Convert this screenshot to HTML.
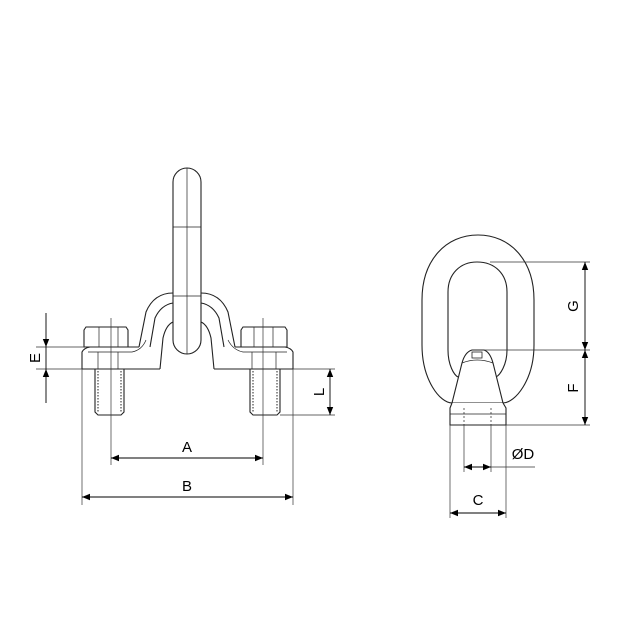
<!DOCTYPE html>
<html><head><style>body{margin:0;background:#fff}svg{display:block}</style></head><body>
<svg width="640" height="640" viewBox="0 0 640 640" xmlns="http://www.w3.org/2000/svg" font-family="Liberation Sans, sans-serif">
<defs>
<marker id="a" viewBox="0 0 10 10" refX="10" refY="5" markerWidth="10" markerHeight="8" orient="auto-start-reverse" markerUnits="userSpaceOnUse"><path d="M0,1 L10,5 L0,9 Z" fill="#000"/></marker>
</defs>
<g fill="none" stroke="#222" stroke-width="1.1">
<!-- eye link left view -->
<path d="M173,182 A14,14 0 0 1 201,182 L201,340 A14,14 0 0 1 173,340 Z" fill="#fff"/>
<line x1="187" y1="168" x2="187" y2="354" stroke-width="0.7"/>
<line x1="173" y1="227" x2="201" y2="227" stroke-width="0.7"/>
<line x1="173" y1="296" x2="201" y2="296" stroke-width="0.7"/>
<!-- saddle -->
<path d="M139,347 L146,312 Q154,293 173,293"/>
<path d="M235,347 L228,312 Q220,293 201,293"/>
<path d="M150,347 L155,318 Q161,305 173,303"/>
<path d="M224,347 L219,318 Q213,305 201,303"/>
<path d="M160,369 L163,338 Q166,325 173,322"/>
<path d="M214,369 L211,338 Q208,325 201,322"/>
<path d="M82,369 L82,352 Q84,348 90,347 L139,347"/>
<path d="M293,369 L293,352 Q291,348 285,347 L235,347"/>
<line x1="82" y1="369" x2="160" y2="369"/>
<line x1="214" y1="369" x2="293" y2="369"/>
<path d="M88,352 L132,352 Q142,350 146,340" stroke-width="0.7"/>
<path d="M287,352 L243,352 Q233,350 228,340" stroke-width="0.7"/>
<!-- bolt heads -->
<path d="M84,330 L86,327 L126,327 L128,330 L128,347 L84,347 Z"/>
<line x1="99" y1="327" x2="99" y2="347" stroke-width="0.7"/>
<line x1="118" y1="327" x2="118" y2="347" stroke-width="0.7"/>
<path d="M241,330 L243,327 L285,327 L287,330 L287,347 L241,347 Z"/>
<line x1="254" y1="327" x2="254" y2="347" stroke-width="0.7"/>
<line x1="273" y1="327" x2="273" y2="347" stroke-width="0.7"/>
<line x1="98" y1="352" x2="98" y2="369" stroke-width="0.7"/>
<line x1="118" y1="352" x2="118" y2="369" stroke-width="0.7"/>
<line x1="252" y1="352" x2="252" y2="369" stroke-width="0.7"/>
<line x1="276" y1="352" x2="276" y2="369" stroke-width="0.7"/>
<!-- threads -->
<path d="M95,369 L95,412 L98,415 L121,415 L124,412 L124,369"/>
<path d="M98,371 L98,412 M121,371 L121,412" stroke-dasharray="1.5,1.5" stroke-width="1"/>
<path d="M250,369 L250,412 L253,415 L277,415 L280,412 L280,369"/>
<path d="M253,371 L253,412 M277,371 L277,412" stroke-dasharray="1.5,1.5" stroke-width="1"/>
<!-- right view -->
<path d="M478,235 C510,235 534,260 534,300 L534,345 C534,380 515,403 503,403 L452,403 C440,403 422,380 422,345 L422,300 C422,260 446,235 478,235 Z" fill="#fff"/>
<path d="M477,262 C495,262 507,274 507,292 L507,350 C507,365 500,375 496,377 M458,377 C454,375 448,365 448,350 L448,292 C448,274 460,262 477,262"/>
<path d="M462,363 Q465,352 472,350 L484,350 Q490,352 493,363 L503,403 L452,403 Z" fill="#fff"/>
<path d="M462,363 Q477,357 493,363" stroke-width="0.8"/>
<rect x="472" y="352" width="10" height="6" stroke-width="0.8"/>
<path d="M452,403 L450,408 L450,425 L506,425 L506,408 L503,403" fill="#fff"/>
<line x1="450" y1="414" x2="506" y2="414" stroke-width="0.7"/>
<line x1="464" y1="408" x2="464" y2="425" stroke-dasharray="2,2" stroke-width="0.7"/>
<line x1="491" y1="408" x2="491" y2="425" stroke-dasharray="2,2" stroke-width="0.7"/>
</g>
<g stroke="#333" stroke-width="0.7" fill="none">
<!-- extension lines left -->
<line x1="82" y1="369" x2="82" y2="505"/>
<line x1="293" y1="369" x2="293" y2="505"/>
<line x1="111" y1="318" x2="111" y2="465"/>
<line x1="263" y1="318" x2="263" y2="465"/>
<line x1="36" y1="347" x2="84" y2="347"/>
<line x1="36" y1="369" x2="82" y2="369"/>
<line x1="280" y1="415" x2="335" y2="415"/>
<line x1="293" y1="369" x2="335" y2="369"/>
<!-- right extension -->
<line x1="490" y1="262" x2="590" y2="262"/>
<line x1="484" y1="350" x2="590" y2="350"/>
<line x1="506" y1="425" x2="590" y2="425"/>
<line x1="464" y1="425" x2="464" y2="472"/>
<line x1="491" y1="425" x2="491" y2="472"/>
<line x1="450" y1="425" x2="450" y2="518"/>
<line x1="506" y1="425" x2="506" y2="518"/>
<line x1="491" y1="467" x2="535" y2="467"/>
</g>
<g stroke="#000" stroke-width="0.9" fill="none">
<line x1="111" y1="458" x2="263" y2="458" marker-start="url(#a)" marker-end="url(#a)"/>
<line x1="82" y1="497" x2="293" y2="497" marker-start="url(#a)" marker-end="url(#a)"/>
<line x1="46" y1="313" x2="46" y2="347" marker-end="url(#a)"/>
<line x1="46" y1="403" x2="46" y2="369" marker-end="url(#a)"/>
<line x1="46" y1="347" x2="46" y2="369"/>
<line x1="330" y1="369" x2="330" y2="415" marker-start="url(#a)" marker-end="url(#a)"/>
<line x1="585" y1="262" x2="585" y2="350" marker-start="url(#a)" marker-end="url(#a)"/>
<line x1="585" y1="350" x2="585" y2="425" marker-start="url(#a)" marker-end="url(#a)"/>
<line x1="464" y1="467" x2="491" y2="467" marker-start="url(#a)" marker-end="url(#a)"/>
<line x1="450" y1="513" x2="506" y2="513" marker-start="url(#a)" marker-end="url(#a)"/>
</g>
<g font-size="15" fill="#000" text-anchor="middle">
<text x="187" y="452">A</text>
<text x="187" y="491">B</text>
<text x="478" y="505">C</text>
<text x="523" y="459">ØD</text>
<text transform="translate(40,358) rotate(-90)" dy="0">E</text>
<text transform="translate(324,392) rotate(-90)">L</text>
<text transform="translate(578,306) rotate(-90)">G</text>
<text transform="translate(578,388) rotate(-90)">F</text>
</g>
</svg>
</body></html>
